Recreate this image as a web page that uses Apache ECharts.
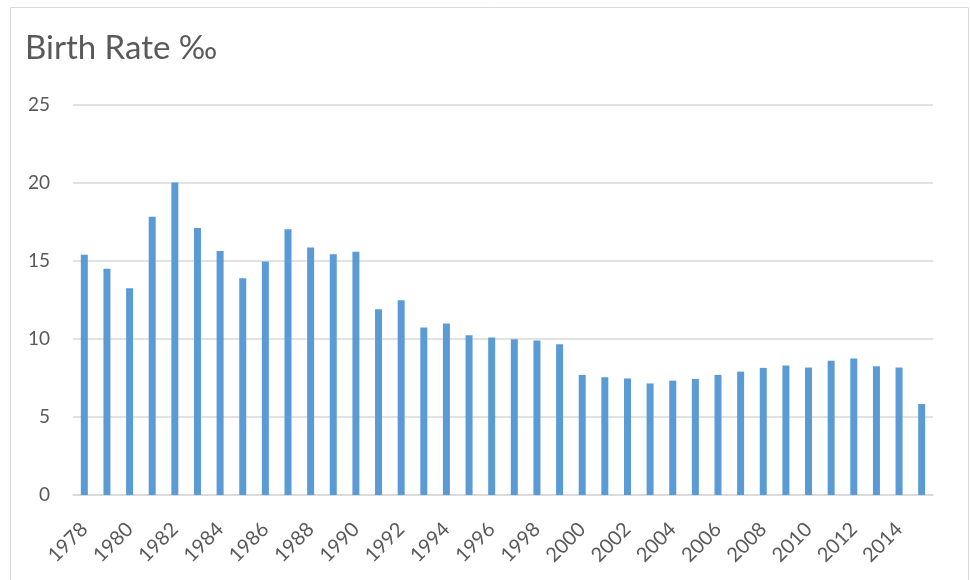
<!DOCTYPE html>
<html>
<head>
<meta charset="utf-8">
<script src="https://cdn.jsdelivr.net/npm/echarts@6/dist/echarts.min.js"></script>
<style>
  html, body { margin: 0; padding: 0; background: #fff; }
  #chart { width: 970px; height: 580px; }
</style>
</head>
<body>
<div id="chart"></div>
<script>
// years 1978 - 2015
const years = [
  '1978', '1979', '1980', '1981', '1982', '1983', '1984', '1985', '1986', '1987',
  '1988', '1989', '1990', '1991', '1992', '1993', '1994', '1995', '1996', '1997',
  '1998', '1999', '2000', '2001', '2002', '2003', '2004', '2005', '2006', '2007',
  '2008', '2009', '2010', '2011', '2012', '2013', '2014', '2015'
]
// birth rate per mille
const birthRate = [
  15.4, 14.5, 13.26, 17.84, 20.03, 17.11, 15.64, 13.9, 14.97, 17.03,
  15.87, 15.44, 15.59, 11.9, 12.49, 10.73, 10.99, 10.24, 10.09, 9.98,
  9.91, 9.66, 7.7, 7.55, 7.47, 7.15, 7.33, 7.44, 7.7, 7.91,
  8.15, 8.3, 8.17, 8.6, 8.75, 8.26, 8.17, 5.83
]
const yTicks = [0, 5, 10, 15, 20, 25]

const textColor = '#595959'
const gridColor = '#d9d9d9'
const font = 'Lato, "Open Sans", sans-serif'

const myChart = echarts.init(document.getElementById('chart'))
const option = {
  backgroundColor: '#fff',
  animation: false,
  title: {
    text: 'Birth Rate ‰',
    left: 20,
    top: 27,
    textStyle: {
      fontFamily: font,
      fontSize: 33,
      fontWeight: 'normal',
      color: textColor
    }
  },
  graphic: [
    {
      type: 'rect',
      shape: { x: 10.5, y: 7.5, width: 958, height: 600 },
      style: { fill: 'none', stroke: '#d9d9d9', lineWidth: 1 },
      silent: true
    }
  ],
  grid: {
    left: 73,
    right: 37,
    top: 105,
    bottom: 85
  },
  xAxis: {
    type: 'category',
    data: years,
    axisLine: { lineStyle: { color: gridColor, width: 1.5 } },
    axisTick: { show: false },
    axisLabel: {
      interval: 1,
      rotate: 45,
      margin: 31,
      fontFamily: font,
      fontSize: 20,
      color: textColor
    }
  },
  yAxis: {
    type: 'value',
    min: yTicks[0],
    max: yTicks[yTicks.length - 1],
    interval: 5,
    axisLine: { show: false },
    axisTick: { show: false },
    splitLine: { lineStyle: { color: gridColor, width: 1.5 } },
    axisLabel: {
      margin: 23,
      fontFamily: font,
      fontSize: 19,
      color: textColor
    }
  },
  series: [
    {
      type: 'bar',
      data: birthRate,
      barWidth: 7,
      itemStyle: { color: '#5b9bd5' }
    }
  ]
}
option && myChart.setOption(option)
</script>
</body>
</html>
